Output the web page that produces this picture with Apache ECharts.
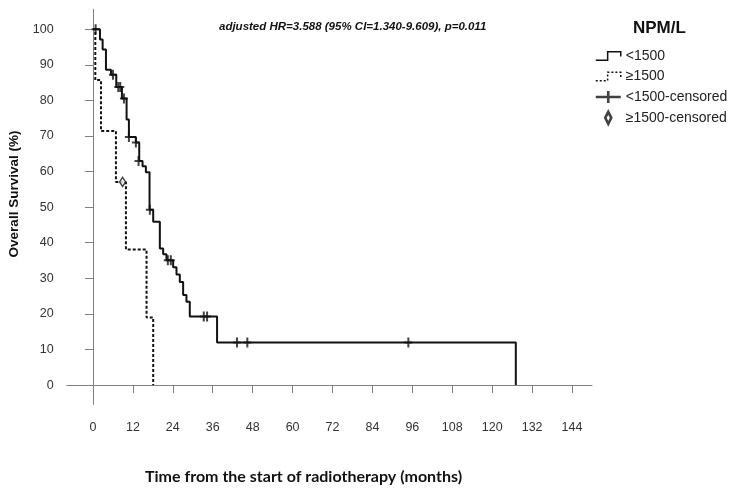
<!DOCTYPE html>
<html>
<head>
<meta charset="utf-8">
<script src="https://cdn.jsdelivr.net/npm/echarts@6/dist/echarts.min.js"></script>
<style>html,body{margin:0;padding:0;background:#fff}#c{width:735px;height:490px}</style>
</head>
<body>
<div id="c"></div>
<script>
// Kaplan-Meier steps: [month, survival %] (value after the event)
const lowSteps = [
  [0, 100], [2.1, 97.1], [2.9, 94.3], [3.9, 88.6], [5.4, 87.2], [7.0, 83.8],
  [8.7, 80.5], [10.1, 74.6], [10.8, 69.7], [12.9, 68.2], [13.9, 63.0],
  [14.9, 61.5], [15.9, 59.8], [17.0, 49.3], [18.1, 45.9], [20.1, 38.4],
  [21.1, 36.8], [22.1, 35.1], [24.1, 33.1], [25.1, 31.1], [26.1, 29.0],
  [27.1, 25.3], [28.1, 23.4], [29.1, 19.3], [37.3, 12.0], [127.1, 0]
];
const highSteps = [
  [0, 100], [0.7, 85.7], [2.4, 71.4], [6.9, 57.1], [9.9, 38.1], [16.1, 19.0], [18.1, 0]
];
const lowCensored = [
  [0.8, 100], [6.0, 87.2], [7.6, 83.8], [8.2, 83.8], [9.3, 80.5], [10.8, 69.7],
  [12.9, 68.2], [13.7, 63.0], [17.1, 49.3], [22.5, 35.1], [23.4, 35.1],
  [33.3, 19.3], [34.3, 19.3], [43.3, 12.0], [46.4, 12.0], [94.8, 12.0]
];
const highCensored = [[8.9, 57.1]];
const xTicks = [0, 12, 24, 36, 48, 60, 72, 84, 96, 108, 120, 132, 144];
const yTicks = [0, 10, 20, 30, 40, 50, 60, 70, 80, 90, 100];
const seriesNames = ['<1500', '≥1500', '<1500-censored', '≥1500-censored'];
const groupTitle = 'NPM/L';
const annotation = 'adjusted HR=3.588 (95% CI=1.340-9.609), p=0.011';
const xTitle = 'Time from the start of radiotherapy (months)';
const yTitle = 'Overall Survival (%)';

const chart = echarts.init(document.getElementById('c'), null, {renderer: 'canvas'});
const axisGray = '#808080';
const labelFont = '"Liberation Sans", Arial, sans-serif';
const plusMark = 'path://M0,4 H8 V6 H0 Z M3,0 H5 V10 H3 Z';
const diamondMark = 'path://M3,0 L6,5 L3,10 L0,5 Z';

chart.setOption({
  animation: false,
  backgroundColor: '#fff',
  grid: {left: 66.7, right: 143, top: 9.3, bottom: 85.7},
  xAxis: {
    type: 'value', min: -7.9, max: 150,
    axisLine: {show: true, lineStyle: {color: axisGray, width: 1}},
    axisTick: {show: true, customValues: xTicks, length: 8, lineStyle: {color: axisGray}},
    axisLabel: {customValues: xTicks, color: '#333', fontFamily: labelFont, fontSize: 12.5, margin: 17},
    splitLine: {show: false}
  },
  yAxis: {
    type: 'value', min: -5.4, max: 105.6,
    axisLine: {show: true, lineStyle: {color: axisGray, width: 1}},
    axisTick: {show: true, customValues: yTicks, length: 8, lineStyle: {color: axisGray}},
    axisLabel: {customValues: yTicks, color: '#333', fontFamily: labelFont, fontSize: 12.5, margin: 13},
    splitLine: {show: false}
  },
  legend: {
    orient: 'vertical', left: 590, top: 44,
    itemWidth: 25, itemHeight: 12, itemGap: 6.5,
    textStyle: {fontFamily: labelFont, fontSize: 14, color: '#222', lineHeight: 14},
    data: [
      {name: seriesNames[0], icon: 'path://M0,7 L10,7 L10,0 L21,0 L21,4',
       itemStyle: {color: 'rgba(0,0,0,0)', borderColor: '#111', borderWidth: 1.5}},
      {name: seriesNames[1], icon: 'path://M0,7 L10,7 L10,0 L21,0 L21,4',
       itemStyle: {color: 'rgba(0,0,0,0)', borderColor: '#111', borderWidth: 1.5, borderType: [2, 2]}},
      {name: seriesNames[2], icon: 'path://M0,4.3 H23 V6.7 H0 Z M10.3,0 H12.7 V11 H10.3 Z',
       itemStyle: {color: '#111', borderWidth: 0}},
      {name: seriesNames[3], icon: 'path://M3,0 L6,6 L3,12 L0,6 Z',
       itemStyle: {color: '#fff', borderColor: '#111', borderWidth: 2.6}}
    ]
  },
  graphic: [
    {type: 'text', left: 633, top: 20, style: {text: groupTitle, font: 'bold 17px "Liberation Sans", Arial, sans-serif', fill: '#111'}},
    {type: 'text', left: 219, top: 21, style: {text: annotation, font: 'italic bold 11.5px "Liberation Sans", Arial, sans-serif', fill: '#111'}},
    {type: 'text', left: 145, top: 469, style: {text: xTitle, font: 'bold 16px Lato, "Open Sans", sans-serif', fill: '#111'}},
    {type: 'text', x: 14, y: 194, rotation: Math.PI / 2,
     style: {text: yTitle, textAlign: 'center', textVerticalAlign: 'middle',
             font: 'bold 13.5px "Liberation Sans", Arial, sans-serif', fill: '#111'}}
  ],
  series: [
    {name: seriesNames[0], type: 'line', step: 'end', data: lowSteps, showSymbol: false, symbol: 'none',
     lineStyle: {color: '#111', width: 2}, itemStyle: {color: '#111'}, z: 3},
    {name: seriesNames[1], type: 'line', step: 'end', data: highSteps, showSymbol: false, symbol: 'none',
     lineStyle: {color: '#111', width: 2, type: [3, 2]}, itemStyle: {color: '#111'}, z: 2},
    {name: seriesNames[2], type: 'scatter', data: lowCensored, symbol: plusMark, symbolSize: [8, 10],
     itemStyle: {color: '#111'}, z: 4},
    {name: seriesNames[3], type: 'scatter', data: highCensored, symbol: diamondMark, symbolSize: [6, 9],
     itemStyle: {color: '#fff', borderColor: '#111', borderWidth: 1.5}, z: 4}
  ]
});
</script>
</body>
</html>
